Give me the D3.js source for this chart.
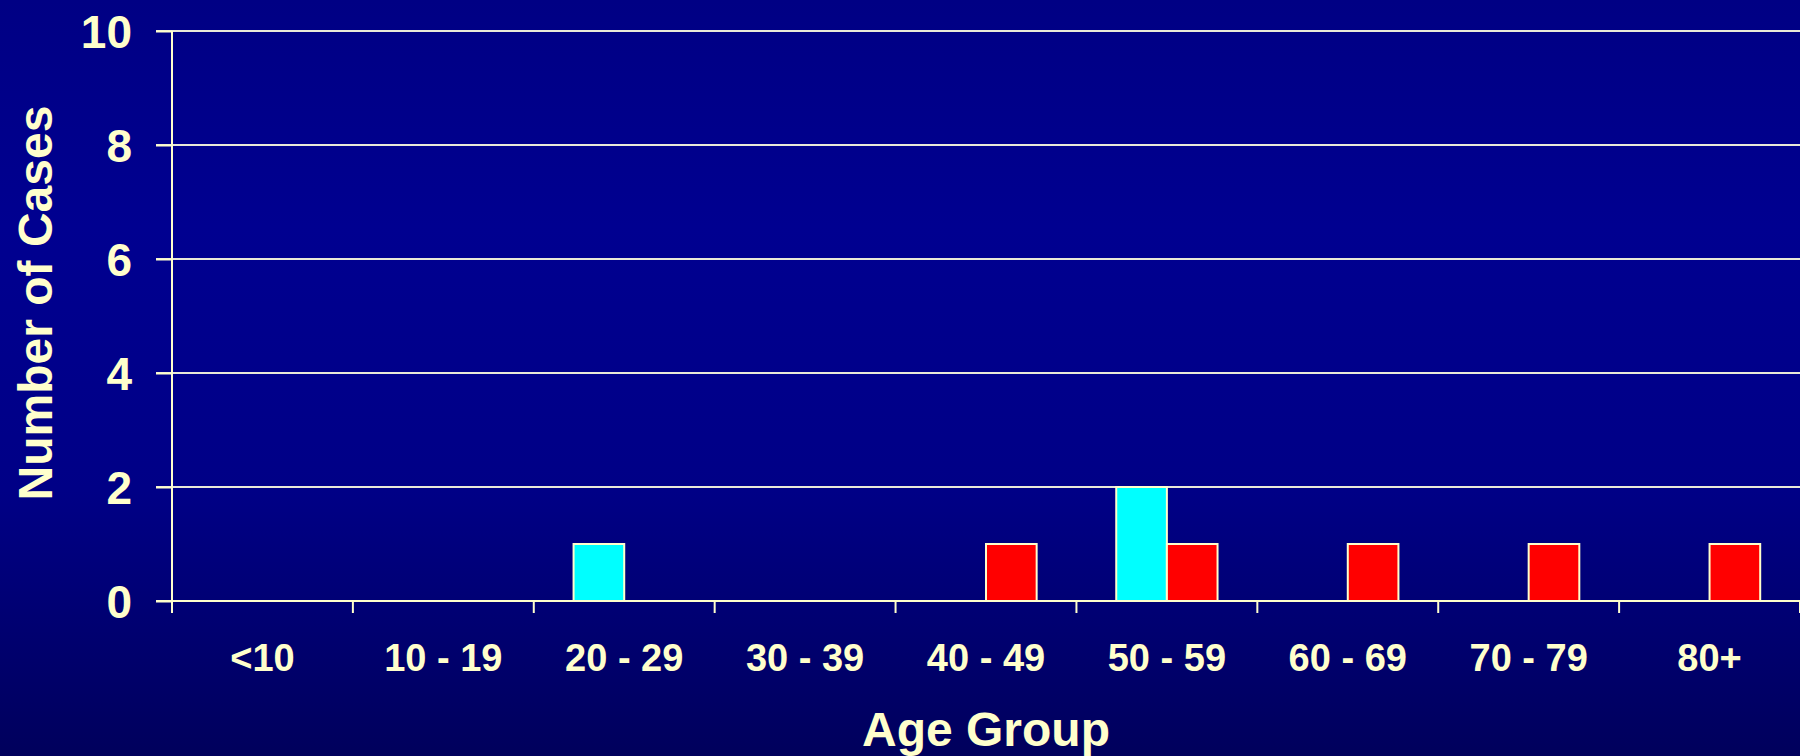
<!DOCTYPE html>
<html>
<head>
<meta charset="utf-8">
<script src="https://cdn.jsdelivr.net/npm/d3@7"></script>
<style>
  body { margin: 0; background: #000080; }
  text { font-family: Arial, "Liberation Sans", sans-serif; font-weight: bold; fill: #ffffcc; }
</style>
</head>
<body>
<div id="plot-container"></div>
<script>
// data
const ageGroups = ["<10", "10 - 19", "20 - 29", "30 - 39", "40 - 49", "50 - 59", "60 - 69", "70 - 79", "80+"];
const seriesNames = ["cyan", "red"];
const cyanCases = [0, 0, 1, 0, 0, 2, 0, 0, 0];
const redCases  = [0, 0, 0, 0, 1, 1, 1, 1, 1];
const yTicks = [0, 2, 4, 6, 8, 10];

const colors = {cyan: "#00ffff", red: "#ff0000"};
const cream = "#ffffcc";

const W = 1800, H = 756;
const margin = {top: 31, right: 0, bottom: 155, left: 172};
const width = W - margin.left - margin.right,
      height = H - margin.top - margin.bottom;

const table = ageGroups.map((g, i) => ({group: g, cyan: cyanCases[i], red: redCases[i]}));

const root = d3.select("#plot-container")
  .append("svg")
    .attr("width", W)
    .attr("height", H);

// background gradient
const grad = root.append("defs").append("linearGradient")
    .attr("id", "bg").attr("x1", 0).attr("y1", 0).attr("x2", 0).attr("y2", 1);
grad.append("stop").attr("offset", "0%").attr("stop-color", "#000084");
grad.append("stop").attr("offset", "30%").attr("stop-color", "#000090");
grad.append("stop").attr("offset", "65%").attr("stop-color", "#000086");
grad.append("stop").attr("offset", "100%").attr("stop-color", "#00005c");
root.append("rect").attr("width", W).attr("height", H).attr("fill", "url(#bg)");

const svg = root.append("g")
    .attr("transform", "translate(" + margin.left + "," + margin.top + ")");

const x0 = d3.scaleBand()
    .domain(ageGroups)
    .range([0, width])
    .paddingInner(0.44)
    .paddingOuter(0.22);

const x1 = d3.scaleBand()
    .domain(seriesNames)
    .range([0, x0.bandwidth()]);

const y = d3.scaleLinear()
    .domain([0, 10])
    .range([height, 0]);

// gridlines
svg.append("g")
  .selectAll("line")
  .data(yTicks.filter(d => d > 0))
  .enter().append("line")
    .attr("x1", -16).attr("x2", width)
    .attr("y1", d => y(d)).attr("y2", d => y(d))
    .attr("stroke", "#e8e8d8")
    .attr("stroke-width", 2);

// y axis
const yAxis = svg.append("g")
    .call(d3.axisLeft(y).tickValues(yTicks).tickSize(16).tickPadding(24));
yAxis.select(".domain").remove();
yAxis.selectAll(".tick line").attr("stroke", cream).attr("stroke-width", 2);
yAxis.selectAll(".tick text")
    .attr("fill", cream)
    .style("font-size", "46px")
    .attr("dy", "0.36em");

// bars
svg.append("g")
  .selectAll("g")
  .data(table)
  .enter().append("g")
    .attr("transform", d => "translate(" + x0(d.group) + ",0)")
  .selectAll("rect")
  .data(d => seriesNames.map(k => ({key: k, value: d[k]})).filter(e => e.value > 0))
  .enter().append("rect")
    .attr("x", d => x1(d.key))
    .attr("y", d => y(d.value))
    .attr("width", x1.bandwidth())
    .attr("height", d => y(0) - y(d.value))
    .attr("fill", d => colors[d.key])
    .attr("stroke", cream)
    .attr("stroke-width", 2);

// x axis line and boundary ticks
const bounds = ageGroups.map(g => x0(g) - (x0.step() - x0.bandwidth()) / 2).concat([width]);
svg.append("line")
    .attr("x1", -16).attr("x2", width)
    .attr("y1", y(0)).attr("y2", y(0))
    .attr("stroke", cream).attr("stroke-width", 2);
svg.append("g")
  .selectAll("line")
  .data(bounds)
  .enter().append("line")
    .attr("x1", d => d).attr("x2", d => d)
    .attr("y1", y(0)).attr("y2", y(0) + 12)
    .attr("stroke", cream).attr("stroke-width", 2);

// y axis line
svg.append("line")
    .attr("x1", 0).attr("x2", 0)
    .attr("y1", 0).attr("y2", y(0) + 12)
    .attr("stroke", cream).attr("stroke-width", 2);

// category labels
svg.append("g")
  .selectAll("text")
  .data(ageGroups)
  .enter().append("text")
    .attr("x", d => x0(d) + x0.bandwidth() / 2)
    .attr("y", height + 70)
    .attr("text-anchor", "middle")
    .style("font-size", "38px")
    .text(d => d);

// X-axis label
svg.append("text")
    .attr("text-anchor", "middle")
    .attr("x", width / 2)
    .attr("y", H - margin.top - 10)
    .style("font-size", "48px")
    .text("Age Group");

// Y-axis label
svg.append("text")
    .attr("text-anchor", "middle")
    .attr("transform", "rotate(-90)")
    .attr("x", -(303 - margin.top))
    .attr("y", -margin.left + 52)
    .style("font-size", "48px")
    .text("Number of Cases");
</script>
</body>
</html>
